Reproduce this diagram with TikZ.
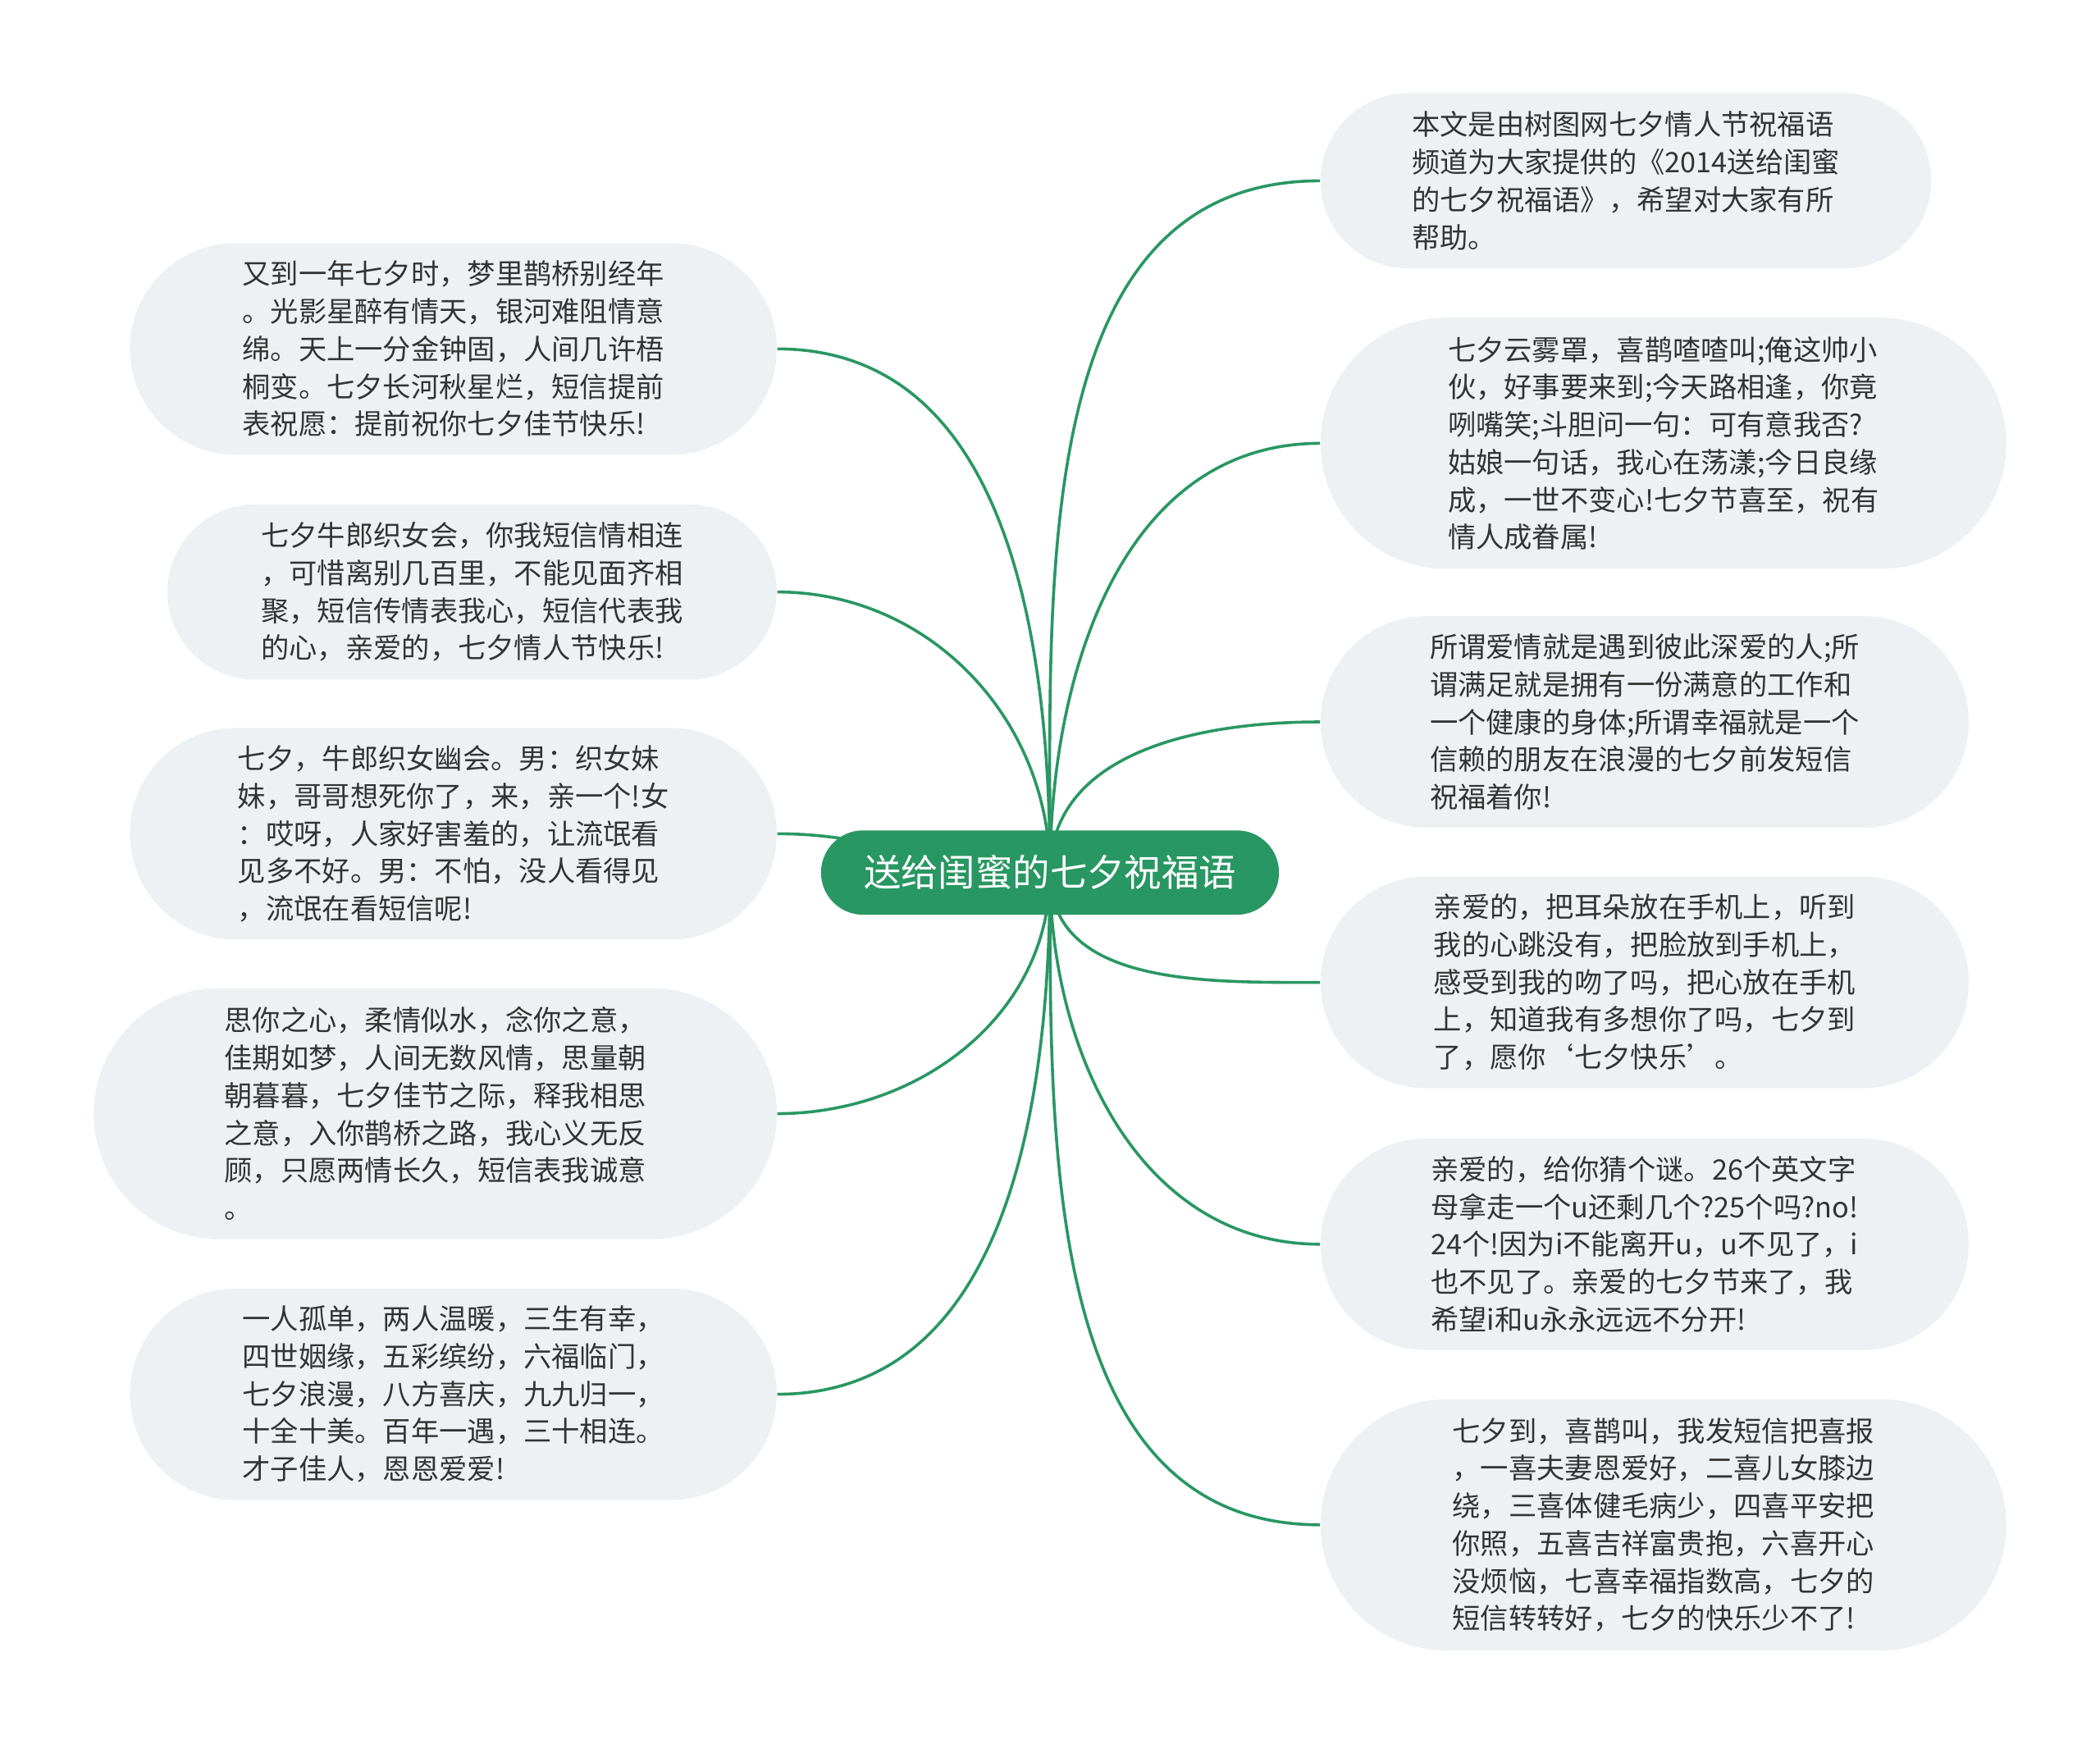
\documentclass[tikz,border=0pt]{standalone}
\usepackage{fontspec}
\newfontfamily\cjkfont{Noto Sans CJK SC}
\usetikzlibrary{shapes.misc,backgrounds}
\definecolor{maingreen}{RGB}{41,151,99}
\definecolor{leafgray}{RGB}{238,241,244}
\definecolor{inkgray}{RGB}{51,51,51}
\tikzset{
  topic/.style={rounded rectangle,fill=maingreen,text=white,inner sep=0pt,
    font=\cjkfont\fontsize{13.9}{16}\selectfont,minimum width=171pt,minimum height=31.5pt},
  leaf/.style={rounded rectangle,fill=leafgray,text=inkgray,inner sep=0pt,align=left,
    font=\cjkfont\fontsize{10.5}{14}\selectfont},
  four/.style={minimum height=65.5pt},
  five/.style={minimum height=79pt},
  six/.style={minimum height=93.75pt},
  branch/.style={draw=maingreen,line width=1.1pt}
}
\begin{document}
\begin{tikzpicture}[x=0.5pt,y=0.5pt]
\useasboundingbox (0,0) rectangle (1568,-1302);

   \node[topic] at (784,-651.5) (M) {送给闺蜜的七夕祝福语};

   \node[leaf,five,minimum width=241.5pt] at (338.5,-260.5) (L1) {又到一年七夕时，梦里鹊桥别经年\\
。光影星醉有情天，银河难阻情意\\
绵。天上一分金钟固，人间几许梧\\
桐变。七夕长河秋星烂，短信提前\\
表祝愿：提前祝你七夕佳节快乐!};
   \node[leaf,four,minimum width=227.5pt] at (352.5,-442) (L2) {七夕牛郎织女会，你我短信情相连\\
，可惜离别几百里，不能见面齐相\\
聚，短信传情表我心，短信代表我\\
的心，亲爱的，七夕情人节快乐!};
   \node[leaf,five,minimum width=241.5pt] at (338.5,-622.5) (L3) {七夕，牛郎织女幽会。男：织女妹\\
妹，哥哥想死你了，来，亲一个!女\\
：哎呀，人家好害羞的，让流氓看\\
见多不好。男：不怕，没人看得见\\
，流氓在看短信呢!};
   \node[leaf,six,minimum width=255pt] at (325,-831.5) (L4) {思你之心，柔情似水，念你之意，\\
佳期如梦，人间无数风情，思量朝\\
朝暮暮，七夕佳节之际，释我相思\\
之意，入你鹊桥之路，我心义无反\\
顾，只愿两情长久，短信表我诚意\\
。};
   \node[leaf,five,minimum width=241.5pt] at (338.5,-1041) (L5) {一人孤单，两人温暖，三生有幸，\\
四世姻缘，五彩缤纷，六福临门，\\
七夕浪漫，八方喜庆，九九归一，\\
十全十美。百年一遇，三十相连。\\
才子佳人，恩恩爱爱!};

   \node[leaf,four,minimum width=228pt] at (1214,-135) (R1) {本文是由树图网七夕情人节祝福语\\
频道为大家提供的《2014送给闺蜜\\
的七夕祝福语》，希望对大家有所\\
帮助。};
   \node[leaf,six,minimum width=256pt] at (1242,-331) (R2) {七夕云雾罩，喜鹊喳喳叫;俺这帅小\\
伙，好事要来到;今天路相逢，你竟\\
咧嘴笑;斗胆问一句：可有意我否?\\
姑娘一句话，我心在荡漾;今日良缘\\
成，一世不变心!七夕节喜至，祝有\\
情人成眷属!};
   \node[leaf,five,minimum width=242pt] at (1228,-539) (R3) {所谓爱情就是遇到彼此深爱的人;所\\
谓满足就是拥有一份满意的工作和\\
一个健康的身体;所谓幸福就是一个\\
信赖的朋友在浪漫的七夕前发短信\\
祝福着你!};
   \node[leaf,five,minimum width=242pt] at (1228,-733.5) (R4) {亲爱的，把耳朵放在手机上，听到\\
我的心跳没有，把脸放到手机上，\\
感受到我的吻了吗，把心放在手机\\
上，知道我有多想你了吗，七夕到\\
了，愿你‘七夕快乐’。};
   \node[leaf,five,minimum width=242pt] at (1228,-929) (R5) {亲爱的，给你猜个谜。26个英文字\\
母拿走一个u还剩几个?25个吗?no!\\
24个!因为i不能离开u，u不见了，i\\
也不见了。亲爱的七夕节来了，我\\
希望i和u永永远远不分开!};
   \node[leaf,six,minimum width=256pt] at (1242,-1138.5) (R6) {七夕到，喜鹊叫，我发短信把喜报\\
，一喜夫妻恩爱好，二喜儿女膝边\\
绕，三喜体健毛病少，四喜平安把\\
你照，五喜吉祥富贵抱，六喜开心\\
没烦恼，七喜幸福指数高，七夕的\\
短信转转好，七夕的快乐少不了!};

\begin{scope}[on background layer]
   \fill[white] (0,0) rectangle (1568,-1302);

   \draw[branch] (M.center) to[out=90,in=0] (L1.east);
   \draw[branch] (M.center) to[out=90,in=0] (L2.east);
   \draw[branch] (M.center) to[out=180,in=0] (L3.east);
   \draw[branch] (M.center) to[out=-90,in=0] (L4.east);
   \draw[branch] (M.center) to[out=-90,in=0] (L5.east);

   \draw[branch] (M.center) to[out=90,in=180] (R1.west);
   \draw[branch] (M.center) to[out=90,in=180] (R2.west);
   \draw[branch] (M.center) to[out=90,in=180] (R3.west);
   \draw[branch] (M.center) to[out=-90,in=180] (R4.west);
   \draw[branch] (M.center) to[out=-90,in=180] (R5.west);
   \draw[branch] (M.center) to[out=-90,in=180] (R6.west);
\end{scope}
\end{tikzpicture}
\end{document}
